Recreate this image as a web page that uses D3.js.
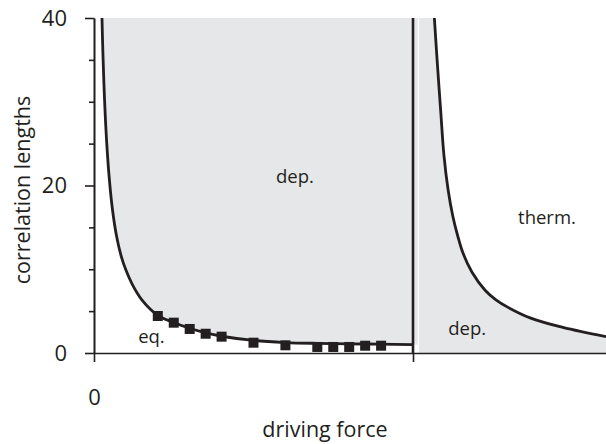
<!DOCTYPE html>
<html>
<head>
<meta charset="utf-8">
<script src="https://cdn.jsdelivr.net/npm/d3@7"></script>
<style>
  html, body { margin: 0; padding: 0; background: #fff; }
  svg { display: block; }
  text { font-family: "Open Sans", "Noto Sans", sans-serif; fill: #231f20; }
</style>
</head>
<body>
<svg id="chart" width="606" height="444"></svg>
<script>
// ---- data ----
const leftCurveX = [0.025, 0.028, 0.033, 0.040, 0.048, 0.058, 0.070, 0.085, 0.10, 0.12, 0.15, 0.2, 0.25, 0.3, 0.35, 0.4, 0.5, 0.6, 0.7, 0.8, 0.9, 1.0];
const leftCurveY = [40, 35.7, 30.3, 25, 20.8, 17.1, 14.1, 11.6, 9.9, 8.2, 6.35, 4.5, 3.65, 2.95, 2.4, 2.0, 1.5, 1.25, 1.15, 1.1, 1.05, 1.0];
const rightCurveX = [1.067, 1.075, 1.087, 1.097, 1.110, 1.125, 1.14, 1.157, 1.185, 1.226, 1.26, 1.298, 1.367, 1.47, 1.605];
const rightCurveY = [40, 35.3, 28.8, 23.6, 19.5, 16.3, 14.0, 11.9, 9.65, 7.5, 6.35, 5.45, 4.2, 3.05, 1.95];
const markerX = [0.2, 0.25, 0.3, 0.35, 0.4, 0.5, 0.6, 0.7, 0.75, 0.8, 0.85, 0.9];
const markerY = [4.42, 3.62, 2.87, 2.30, 1.95, 1.23, 0.92, 0.72, 0.72, 0.72, 0.87, 0.87];
const transitionX = 1.0;
const yMajorTicks = [0, 20, 40];
const yMinorTicks = [5, 10, 15, 25, 30, 35];
const xTicks = [0, 1];
const xTickLabels = ["0", ""];
const regionLabels = [
  { text: "dep.", x: 0.63, y: 20.3 },
  { text: "therm.", x: 1.42, y: 15.4 },
  { text: "dep.", x: 1.17, y: 2.2 },
  { text: "eq.", x: 0.18, y: 1.2 }
];

// ---- layout ----
const svg = d3.select("#chart");
const x = d3.scaleLinear().domain([0, 1.605]).range([94, 606]);
const y = d3.scaleLinear().domain([0, 40]).range([353, 18]);
const gray = "#e6e7e8";
const ink = "#231f20";
const smooth = d3.curveCatmullRom.alpha(0.5);

const left = leftCurveX.map((v, i) => ({ x: v, y: leftCurveY[i] }));
const right = rightCurveX.map((v, i) => ({ x: v, y: rightCurveY[i] }));

// fills
svg.append("path")
  .attr("d", d3.area().x(d => x(d.x)).y0(y(40)).y1(d => y(d.y)).curve(smooth)(left))
  .attr("fill", gray);
svg.append("rect")
  .attr("x", x(transitionX) - 1).attr("y", y(40))
  .attr("width", x(transitionX + 0.015) - x(transitionX) + 1)
  .attr("height", y(left[left.length - 1].y) - y(40))
  .attr("fill", gray);
svg.append("path")
  .attr("d", d3.area().x(d => x(d.x)).y0(y(0)).y1(d => y(d.y)).curve(smooth)(right))
  .attr("fill", gray);
svg.append("rect")
  .attr("x", x(transitionX + 0.019)).attr("y", y(40))
  .attr("width", x(right[0].x) - x(transitionX + 0.019) + 1)
  .attr("height", y(0) - y(40))
  .attr("fill", gray);

// axes
const fontSize = 22;
const yMinor = svg.append("g").attr("transform", `translate(${x(0)},0)`)
  .call(d3.axisLeft(y).tickValues(yMinorTicks).tickSize(5).tickSizeOuter(0).tickFormat(""));
const yMajor = svg.append("g").attr("transform", `translate(${x(0)},0)`)
  .call(d3.axisLeft(y).tickValues(yMajorTicks).tickSize(9).tickSizeOuter(0).tickPadding(18).tickFormat(d3.format("d")));
const xAxis = svg.append("g").attr("transform", `translate(0,${y(0)})`)
  .call(d3.axisBottom(x).tickValues(xTicks).tickSize(9).tickSizeOuter(0).tickPadding(27).tickFormat((d, i) => xTickLabels[i]));
[yMinor, yMajor, xAxis].forEach(g => {
  g.selectAll("path, line").attr("stroke", ink).attr("stroke-width", 1.6);
  g.selectAll("text").attr("font-size", fontSize).attr("fill", ink)
    .style("font-family", '"Open Sans", "Noto Sans", sans-serif');
});

// transition vertical line
svg.append("line")
  .attr("x1", x(transitionX)).attr("x2", x(transitionX))
  .attr("y1", y(40)).attr("y2", y(0))
  .attr("stroke", ink).attr("stroke-width", 2.6);

// curves
const line = d3.line().x(d => x(d.x)).y(d => y(d.y)).curve(smooth);
svg.append("path").attr("d", line(left)).attr("fill", "none").attr("stroke", ink).attr("stroke-width", 2.8);
svg.append("path").attr("d", line(right)).attr("fill", "none").attr("stroke", ink).attr("stroke-width", 2.8);

// markers
const ms = 10;
svg.selectAll("rect.marker").data(markerX.map((v, i) => ({ x: v, y: markerY[i] })))
  .enter().append("rect").attr("class", "marker")
  .attr("x", d => x(d.x) - ms / 2).attr("y", d => y(d.y) - ms / 2)
  .attr("width", ms).attr("height", ms).attr("fill", ink);

// region labels
svg.selectAll("text.region").data(regionLabels).enter().append("text")
  .attr("class", "region")
  .attr("x", d => x(d.x)).attr("y", d => y(d.y))
  .attr("text-anchor", "middle").attr("font-size", 18.5)
  .text(d => d.text);

// axis titles
svg.append("text").attr("x", 325).attr("y", 437).attr("text-anchor", "middle")
  .attr("font-size", 21.5).text("driving force");
svg.append("text").attr("transform", "translate(30,190) rotate(-90)")
  .attr("text-anchor", "middle").attr("font-size", 21.5).text("correlation lengths");
</script>
</body>
</html>
